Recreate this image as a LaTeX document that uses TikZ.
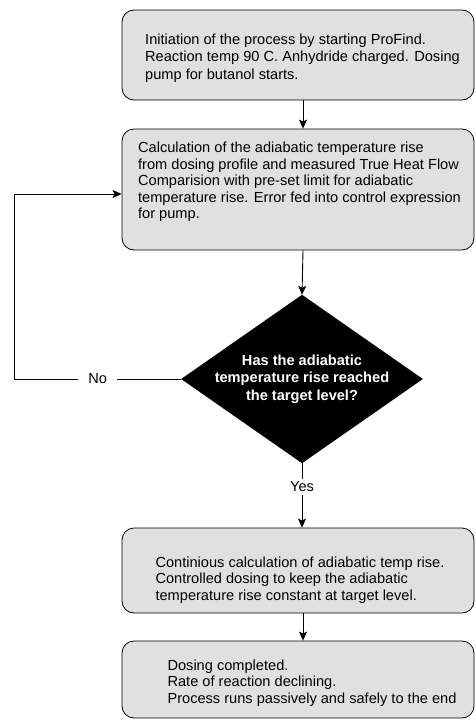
\documentclass[tikz,border=0pt]{standalone}
\usepackage{fontspec}
\setmainfont{Liberation Sans}
\usetikzlibrary{arrows.meta,shapes.geometric}
\definecolor{boxfill}{RGB}{224,224,224}
\begin{document}
\begin{tikzpicture}[x=1pt,y=-1pt,
  box/.style={draw=black,line width=0.8pt,fill=boxfill,rounded corners=12pt,
    minimum width=352pt,inner sep=0pt},
  boxtext/.style={inner sep=0pt,align=left,
    font=\fontsize{14.6pt}{16.6pt}\selectfont},
  dia/.style={diamond,draw=black,fill=black,inner sep=0pt,
    minimum width=241pt,minimum height=168pt},
  diatext/.style={text=white,align=center,
    font=\bfseries\fontsize{14.6pt}{17.5pt}\selectfont},
  conn/.style={draw=black,line width=0.9pt},
  arr/.style={conn,-{Stealth[length=9pt,width=8pt,inset=2pt]}},
  lbl/.style={fill=white,inner xsep=6pt,inner ysep=3pt,
    font=\fontsize{14.6pt}{16.6pt}\selectfont}]
\useasboundingbox (0,0) rectangle (475,720);

\node[box,minimum height=90pt] (b1) at (298,55) {};
\node[boxtext,font=\fontsize{14.6pt}{17.5pt}\selectfont] (b1t) at (302.5,58)
  {Initiation of the process by starting ProFind.\\
   Reaction temp 90 C. Anhydride charged. Dosing\\
   pump for butanol starts.};

\node[box,minimum height=121pt] (b2) at (298,189.5) {};
\node[boxtext] (b2t) at (299.5,182)
  {Calculation of the adiabatic temperature rise\\
   from dosing profile and measured True Heat Flow\\
   Comparision with pre-set limit for adiabatic\\
   temperature rise. Error fed into control expression\\
   for pump.};

\node[dia] (dec) at (302,379) {};
\node[diatext] (dect) at (302,379)
  {Has the adiabatic\\ temperature rise reached\\ the target level?};

\node[box,minimum height=85pt] (b3) at (298,570.5) {};
\node[boxtext] (b3t) at (300,580)
  {Continious calculation of adiabatic temp rise.\\
   Controlled dosing to keep the adiabatic\\
   temperature rise constant at target level.};

\node[box,minimum height=77pt] (b4) at (298,679.5) {};
\node[boxtext] (b4t) at (312,683)
  {Dosing completed.\\
   Rate of reaction declining.\\
   Process runs passively and safely to the end};

\coordinate (ax) at (303,0);
\coordinate (c1) at (14,379);
\coordinate (c2) at (14,194);

\draw[arr] (b1.south -| ax) -- (b2.north -| ax);
\draw[arr] (b2.south -| ax) -- (dec.north);
\draw[arr] (dec.south) -- node[lbl,pos=0.37] (yes) {Yes} (b3.north -| dec.south);
\draw[arr] (b3.south -| ax) -- (b4.north -| ax);
\draw[arr] (dec.west) -- node[lbl,inner xsep=10pt,pos=0.5] (no) {No} (c1) -- (c2) -- (c2 -| b2.west);
\end{tikzpicture}
\end{document}
